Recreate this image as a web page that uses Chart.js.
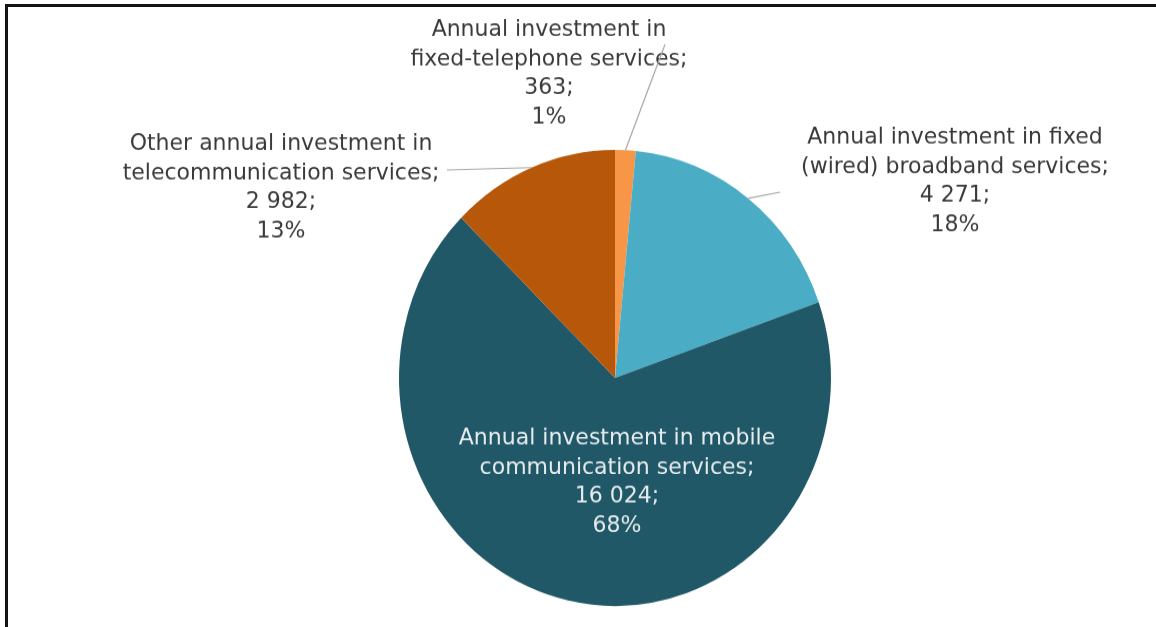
<!DOCTYPE html>
<html>
<head>
<meta charset="utf-8">
<title>Annual investment in telecommunication services</title>
<script src="https://cdn.jsdelivr.net/npm/chart.js@4.4.1/dist/chart.umd.min.js"></script>
<style>
  html, body { margin: 0; padding: 0; background: #fff; }
  #wrap { position: relative; width: 1156px; height: 627px; overflow: hidden; background: #fff; }
  /* the chart was exported slightly taller than wide, so stretch it a bit */
  #stretch {
    position: absolute; left: 0; top: 0; width: 1156px; height: 594px;
    transform: scaleY(1.0556); transform-origin: 0 0;
  }
  #frame {
    position: absolute; left: 5px; top: 4px; width: 1300px; height: 800px;
    border-left: 3px solid #141414; border-top: 3px solid #141414;
    pointer-events: none;
  }
</style>
</head>
<body>
<div id="wrap">
  <div id="stretch"><canvas id="pieChart"></canvas></div>
  <div id="frame"></div>
</div>
<script>
// slice names, split over two lines each
const categories = [
    ['Annual investment in', 'fixed-telephone services;'],
    ['Annual investment in fixed', '(wired) broadband services;'],
    ['Annual investment in mobile', 'communication services;'],
    ['Other annual investment in', 'telecommunication services;']
];
const values = [363, 4271, 16024, 2982];
const shares = ['1%', '18%', '68%', '13%'];
const colors = ['#f79646', '#4bacc6', '#215868', '#b7570a'];

// where each label block sits relative to the pie centre (first baseline),
// and where its leader line starts
const labelSpots = [
    { dx: -66, dy: -324, lead: [50, -316], inside: false },
    { dx: 340, dy: -222, lead: [165, -176], inside: false },
    { dx: 2, dy: 63, lead: null, inside: true },
    { dx: -334, dy: -216, lead: [-168, -197], inside: false }
];
const lineGap = 27.6;

function withSpaces(n) {
    return n.toString().replace(/\B(?=(\d{3})+(?!\d))/g, ' ');
}

const sliceLabels = {
    id: 'sliceLabels',
    afterDatasetsDraw(chart) {
        const ctx = chart.ctx;
        const arcs = chart.getDatasetMeta(0).data;
        ctx.save();
        ctx.font = '22px "DejaVu Sans", Verdana, sans-serif';
        ctx.textAlign = 'center';
        ctx.textBaseline = 'alphabetic';
        arcs.forEach((arc, i) => {
            const spot = labelSpots[i];
            const lines = [...categories[i], withSpaces(values[i]) + ';', shares[i]];
            ctx.fillStyle = spot.inside ? '#e6ecee' : '#3a3a3a';
            lines.forEach((t, k) => {
                ctx.fillText(t, arc.x + spot.dx, arc.y + spot.dy + k * lineGap);
            });
            if (spot.lead) {
                const mid = (arc.startAngle + arc.endAngle) / 2;
                const ex = arc.x + Math.cos(mid) * arc.outerRadius;
                const ey = arc.y + Math.sin(mid) * arc.outerRadius;
                ctx.strokeStyle = '#a6a6a6';
                ctx.lineWidth = 1.2;
                ctx.beginPath();
                ctx.moveTo(arc.x + spot.lead[0], arc.y + spot.lead[1]);
                ctx.lineTo(ex, ey);
                ctx.stroke();
            }
        });
        ctx.restore();
    }
};

new Chart(document.getElementById('pieChart'), {
    type: 'pie',
    data: {
        labels: categories.map(c => c.join(' ')),
        datasets: [{
            data: values,
            backgroundColor: colors,
            borderWidth: 0,
            hoverOffset: 0,
            offset: 0
        }]
    },
    options: {
        responsive: true,
        maintainAspectRatio: false,
        animation: false,
        layout: {
            padding: { top: 142, bottom: 20, left: 399, right: 325 }
        },
        plugins: {
            legend: { display: false },
            tooltip: { enabled: false }
        }
    },
    plugins: [sliceLabels]
});
</script>
</body>
</html>
